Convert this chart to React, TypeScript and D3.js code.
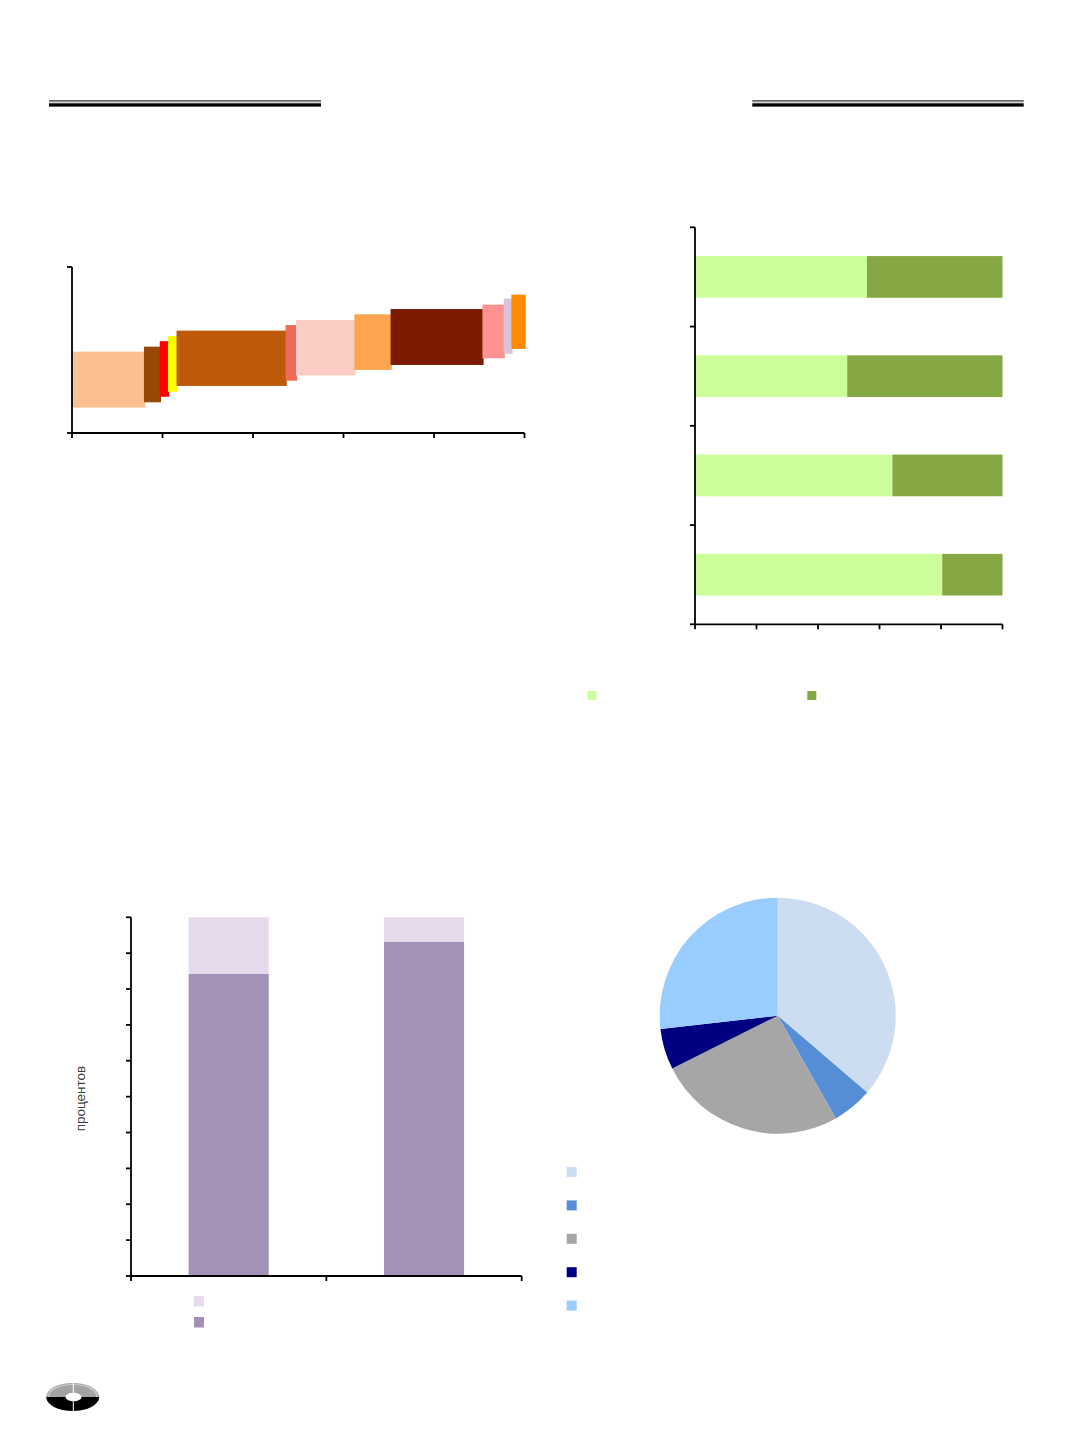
import * as d3 from "d3";

// Chart 1: floating bars with variable width (cumulative share on x, low/high on y)
const shares = [15.9, 3.5, 1.8, 1.9, 24.1, 2.3, 12.9, 8.0, 20.3, 4.7, 1.7, 2.9];
const lows = [4.6, 5.55, 6.55, 7.45, 8.5, 9.45, 10.4, 11.4, 12.3, 13.5, 14.3, 15.2];
const highs = [14.7, 15.6, 16.6, 17.5, 18.5, 19.5, 20.4, 21.45, 22.4, 23.2, 24.3, 25.0];
const barColors = [
  "#FAC090", "#984807", "#FF0000", "#FFFF00", "#BF5A0B", "#ED6B57",
  "#FACCC4", "#FDA54E", "#7B1C02", "#FF9191", "#D9C3D9", "#FF8A00",
];

// Chart 2: horizontal 100% stacked bars
const hCategories = ["a", "b", "c", "d"];
const hPart1 = [55.9, 49.5, 64.2, 80.4];
const hPart2 = [44.1, 50.5, 35.8, 19.6];
const hColors = ["#CCFF99", "#86A844"];

// Chart 3: vertical 100% stacked columns
const vCategories = ["1", "2"];
const vLower = [84.2, 93.2];
const vUpper = [15.8, 6.8];
const vColors = ["#A391B6", "#E6DAED"];

// Chart 4: pie
const pieValues = [36.3, 5.5, 25.8, 5.6, 26.8];
const pieColors = ["#CCDDF2", "#558ED5", "#A6A6A6", "#000080", "#99CCFF"];

const AX = "#000";

function Chart1() {
  const x = d3.scaleLinear().domain([0, 100]).range([72, 524.5]);
  const y = d3.scaleLinear().domain([0, 30]).range([433, 267]);
  const starts = d3.cumsum([0, ...shares]);
  return (
    <g>
      {shares.map((s, i) => (
        <rect
          key={i}
          x={x(starts[i])}
          y={y(highs[i])}
          width={x(starts[i] + s) - x(starts[i]) + 1.2}
          height={y(lows[i]) - y(highs[i])}
          fill={barColors[i]}
        />
      ))}
      <line x1={72} x2={72} y1={y(30)} y2={y(0)} stroke={AX} strokeWidth={1.8} />
      <line x1={72} x2={524.5} y1={y(0)} y2={y(0)} stroke={AX} strokeWidth={1.8} />
      {[0, 30].map((t) => (
        <line key={t} x1={67} x2={72} y1={y(t)} y2={y(t)} stroke={AX} strokeWidth={1.8} />
      ))}
      {x.ticks(5).map((t) => (
        <line key={t} x1={x(t)} x2={x(t)} y1={y(0)} y2={y(0) + 5} stroke={AX} strokeWidth={1.8} />
      ))}
    </g>
  );
}

function Chart2() {
  const x = d3.scaleLinear().domain([0, 100]).range([695, 1002.5]);
  const y = d3
    .scaleBand()
    .domain(hCategories)
    .range([227.3, 624.3])
    .paddingInner(0.58)
    .paddingOuter(0.29);
  const step = y.step();
  const bounds = d3.range(hCategories.length + 1).map((i) => 227.3 + i * step);
  return (
    <g>
      {hCategories.map((c, i) => (
        <g key={c}>
          <rect x={x(0)} y={y(c)} width={x(hPart1[i]) - x(0)} height={y.bandwidth()} fill={hColors[0]} />
          <rect
            x={x(hPart1[i])}
            y={y(c)}
            width={x(hPart1[i] + hPart2[i]) - x(hPart1[i])}
            height={y.bandwidth()}
            fill={hColors[1]}
          />
        </g>
      ))}
      <line x1={695} x2={695} y1={227.3} y2={624.3} stroke={AX} strokeWidth={1.8} />
      <line x1={695} x2={1002.5} y1={624.3} y2={624.3} stroke={AX} strokeWidth={1.8} />
      {bounds.map((b, i) => (
        <line key={i} x1={690} x2={695} y1={b} y2={b} stroke={AX} strokeWidth={1.8} />
      ))}
      {x.ticks(5).map((t) => (
        <line key={t} x1={x(t)} x2={x(t)} y1={624.3} y2={629.3} stroke={AX} strokeWidth={1.8} />
      ))}
      {hColors.map((c, i) => (
        <rect key={c} x={[587.3, 807.3][i]} y={691} width={9} height={9} fill={c} />
      ))}
    </g>
  );
}

function Chart3() {
  const x = d3.scaleBand().domain(vCategories).range([131, 521.7]).paddingInner(0.59).paddingOuter(0.295);
  const y = d3.scaleLinear().domain([0, 100]).range([1276, 917.3]);
  const step = x.step();
  return (
    <g>
      {vCategories.map((c, i) => (
        <g key={c}>
          <rect x={x(c)} y={y(vLower[i])} width={x.bandwidth()} height={y(0) - y(vLower[i])} fill={vColors[0]} />
          <rect
            x={x(c)}
            y={y(vLower[i] + vUpper[i])}
            width={x.bandwidth()}
            height={y(vLower[i]) - y(vLower[i] + vUpper[i])}
            fill={vColors[1]}
          />
        </g>
      ))}
      <line x1={131} x2={131} y1={y(100)} y2={y(0)} stroke={AX} strokeWidth={1.8} />
      <line x1={131} x2={521.7} y1={y(0)} y2={y(0)} stroke={AX} strokeWidth={1.8} />
      {y.ticks(10).map((t) => (
        <line key={t} x1={126} x2={131} y1={y(t)} y2={y(t)} stroke={AX} strokeWidth={1.8} />
      ))}
      {d3.range(vCategories.length + 1).map((i) => (
        <line key={i} x1={131 + i * step} x2={131 + i * step} y1={y(0)} y2={y(0) + 5} stroke={AX} strokeWidth={1.8} />
      ))}
      <text
        transform="translate(85,1098.5) rotate(-90)"
        textAnchor="middle"
        fontFamily="Liberation Sans, Arial, sans-serif"
        fontSize={13.5}
        fill="#404040"
      >
        процентов
      </text>
      {[vColors[1], vColors[0]].map((c, i) => (
        <rect key={c} x={194} y={1296 + i * 21} width={10} height={10.5} fill={c} />
      ))}
    </g>
  );
}

function Chart4() {
  const pie = d3.pie<number>().sort(null)(pieValues);
  const arc = d3.arc<d3.PieArcDatum<number>>().innerRadius(0).outerRadius(118);
  return (
    <g>
      <g transform="translate(777.7,1015.7)">
        {pie.map((p, i) => (
          <path key={i} d={arc(p) || ""} fill={pieColors[i]} />
        ))}
      </g>
      {pieColors.map((c, i) => (
        <rect key={c} x={566.7} y={1167 + i * 33.4} width={10} height={10} fill={c} />
      ))}
    </g>
  );
}

function Header({ x1, x2 }: { x1: number; x2: number }) {
  return (
    <g>
      <rect x={x1} y={100.3} width={x2 - x1} height={1.3} fill="#222" />
      <rect x={x1} y={101.6} width={x2 - x1} height={1.2} fill="#C8C8C8" />
      <rect x={x1} y={103.3} width={x2 - x1} height={3.3} fill="#000" />
    </g>
  );
}

function Logo() {
  return (
    <g>
      <clipPath id="logoTop">
        <rect x={40} y={1380} width={70} height={17} />
      </clipPath>
      <clipPath id="logoBottom">
        <rect x={40} y={1397} width={70} height={20} />
      </clipPath>
      <ellipse cx={72.7} cy={1397} rx={26.5} ry={14} fill="#000" clipPath="url(#logoBottom)" />
      <ellipse cx={72.7} cy={1397} rx={26.5} ry={14} fill="#A3A3A3" clipPath="url(#logoTop)" />
      <ellipse cx={72.7} cy={1396} rx={24} ry={11.5} fill="none" stroke="#D0D0D0" strokeWidth={1.2} clipPath="url(#logoTop)" />
      <ellipse cx={73.5} cy={1397} rx={8} ry={4.3} fill="#fff" />
      <line x1={73.3} x2={73.3} y1={1382} y2={1412} stroke="#fff" strokeWidth={1} />
    </g>
  );
}

export default function App() {
  return (
    <svg
      width={1072}
      height={1433}
      style={{ position: "absolute", left: 0, top: 0, background: "#fff" }}
    >
      <rect width={1072} height={1433} fill="#fff" />
      <Header x1={49} x2={321} />
      <Header x1={752.3} x2={1023.7} />
      <Chart1 />
      <Chart2 />
      <Chart3 />
      <Chart4 />
      <Logo />
    </svg>
  );
}
